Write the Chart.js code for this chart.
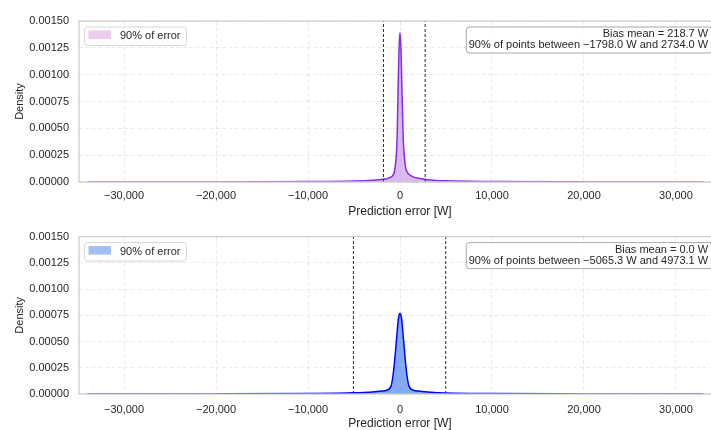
<!DOCTYPE html>
<html>
<head>
<meta charset="utf-8">
<script src="https://cdn.jsdelivr.net/npm/chart.js@4/dist/chart.umd.min.js"></script>
<style>
  html, body { margin: 0; padding: 0; background: #fff; }
  #wrap { position: relative; width: 711px; height: 430px; overflow: hidden; }
  canvas { position: absolute; left: 0; }
</style>
</head>
<body>
<div id="wrap">
  <canvas id="topChart" width="722" height="220" style="top:0"></canvas>
  <canvas id="botChart" width="722" height="210" style="top:220px"></canvas>
</div>
<script>
// prediction error grid [W]
const errGrid = [-34000, -20000, -10000, -5000, -3000, -2000, -1500, -1000, -800, -600, -400, -300, -200, -100,
  0, 100, 200, 300, 400, 600, 800, 1000, 1500, 2000, 3000, 5000, 10000, 20000, 33000];

// KDE densities
const densityTop = [0, 0.0000008, 0.000004, 0.000009, 0.000016, 0.000024, 0.00003, 0.000045, 0.00006, 0.0001,
  0.00025, 0.00045, 0.0009, 0.00125, 0.00139, 0.00125, 0.0009, 0.00055, 0.00032, 0.00014, 0.00009, 0.00007,
  0.000045, 0.000035, 0.000022, 0.000011, 0.000005, 0.000001, 0];
const densityBottom = [0, 0.000001, 0.000005, 0.000012, 0.00002, 0.000028, 0.000035, 0.00007, 0.00015, 0.0003,
  0.0005, 0.0006, 0.0007, 0.00075, 0.00077, 0.00075, 0.0007, 0.0006, 0.0005, 0.0003, 0.00015, 0.00007,
  0.000035, 0.000028, 0.00002, 0.00001, 0.000004, 0.000001, 0];

const biasTop = 218.7, cutsTop = [-1798.0, 2734.0];
const biasBottom = 0.0, cutsBottom = [-5065.3, 4973.1];

const xTicks = [-30000, -20000, -10000, 0, 10000, 20000, 30000];
const yTicks = [0, 0.00025, 0.0005, 0.00075, 0.001, 0.00125, 0.0015];
const legendLabel = '90% of error';

const FONT = "'Liberation Sans', Arial, sans-serif";
const TXT = '#262626';

const fmtX = v => (v < 0 ? '\u2212' : '') + Math.abs(v).toLocaleString('en-US');
const fmtW = v => (v < 0 ? '\u2212' : '') + Math.abs(v).toFixed(1);

const decorPlugin = {
  id: 'decor',
  afterDraw(chart) {
    const o = chart.options.plugins.decor;
    const { ctx, chartArea: a } = chart;
    ctx.save();
    // frame (all four spines)
    ctx.strokeStyle = '#cccccc';
    ctx.lineWidth = 1.25;
    ctx.strokeRect(a.left, a.top, a.right - a.left, a.bottom - a.top);

    ctx.font = '11px ' + FONT;
    ctx.textBaseline = 'middle';

    // legend
    const lx = a.left + 5, ly = a.top + 5.5;
    ctx.fillStyle = 'rgba(255,255,255,0.8)';
    ctx.strokeStyle = '#d6d6d6';
    ctx.lineWidth = 1;
    ctx.beginPath();
    ctx.roundRect(lx + 0.5, ly + 0.5, 102, 18.5, 3);
    ctx.fill(); ctx.stroke();
    ctx.fillStyle = o.patch;
    ctx.fillRect(lx + 4.5, ly + 4, 22.5, 8.5);
    ctx.fillStyle = TXT;
    ctx.textAlign = 'left';
    ctx.fillText(legendLabel, lx + 36, ly + 9.5);

    // stats box
    const lines = [
      'Bias mean = ' + fmtW(o.bias) + ' W',
      '90% of points between ' + fmtW(o.cuts[0]) + ' W and ' + fmtW(o.cuts[1]) + ' W'
    ];
    const tx = a.left + 0.98 * (a.right - a.left);
    const w = Math.max(...lines.map(s => ctx.measureText(s).width));
    const by = a.top + 5.5;
    ctx.fillStyle = 'rgba(255,255,255,0.8)';
    ctx.strokeStyle = '#a8a8a8';
    ctx.beginPath();
    ctx.roundRect(tx - w - 3 + 0.5, by + 0.5, w + 7, 26, 3);
    ctx.fill(); ctx.stroke();
    ctx.fillStyle = TXT;
    ctx.textAlign = 'right';
    ctx.fillText(lines[0], tx, by + 7.5);
    ctx.fillText(lines[1], tx, by + 18.8);
    ctx.restore();
  }
};

const makeChart = (id, dens, cuts, bias, lineColor, fillColor, patch, padTop, xHeight, tickPad, titlePad) => {
  const curve = errGrid.map((x, i) => ({ x: x, y: dens[i] }));
  const vline = c => ({
    data: [{ x: c, y: 0 }, { x: c, y: 0.0015 }],
    borderColor: '#2a2a2a',
    borderWidth: 1,
    borderDash: [3, 2],
    pointRadius: 0,
    fill: false,
    order: 1
  });
  return new Chart(document.getElementById(id), {
    type: 'line',
    data: {
      datasets: [
        {
          data: curve,
          borderColor: lineColor,
          backgroundColor: fillColor,
          borderWidth: 1.5,
          pointRadius: 0,
          fill: 'origin',
          cubicInterpolationMode: 'monotone',
          order: 2
        },
        vline(cuts[0]),
        vline(cuts[1])
      ]
    },
    plugins: [decorPlugin],
    options: {
      responsive: false,
      animation: false,
      layout: { padding: { top: padTop, right: 1, left: 0, bottom: 0 } },
      plugins: {
        legend: { display: false },
        tooltip: { enabled: false },
        decor: { bias: bias, cuts: cuts, patch: patch }
      },
      scales: {
        x: {
          type: 'linear',
          min: -34900,
          max: 34900,
          afterBuildTicks: s => { s.ticks = xTicks.map(v => ({ value: v })); },
          afterFit: s => { s.height = xHeight; },
          grid: { color: '#e4e4e4', lineWidth: 0.8, drawTicks: false },
          border: { display: false, dash: [4, 2.5] },
          ticks: { color: TXT, font: { family: FONT, size: 11 }, padding: tickPad, maxRotation: 0, callback: v => fmtX(v) },
          title: { display: true, text: 'Prediction error [W]', color: TXT, font: { family: FONT, size: 12 }, padding: { top: 0, bottom: titlePad } }
        },
        y: {
          min: 0,
          max: 0.0015,
          afterBuildTicks: s => { s.ticks = yTicks.map(v => ({ value: v })); },
          afterFit: s => { s.width = 79; },
          grid: { color: '#e4e4e4', lineWidth: 0.8, drawTicks: false },
          border: { display: false, dash: [4, 2.5] },
          ticks: { color: TXT, font: { family: FONT, size: 11 }, padding: 10, callback: v => v.toFixed(5) },
          title: { display: true, text: 'Density', color: TXT, font: { family: FONT, size: 11 }, padding: { top: 13, bottom: 0 } }
        }
      }
    }
  });
};

makeChart('topChart', densityTop, cutsTop, biasTop, '#8a2be2', 'rgba(190,130,225,0.55)', 'rgba(221,160,221,0.55)', 21, 38, 7, 1);
makeChart('botChart', densityBottom, cutsBottom, biasBottom, '#0000ff', 'rgba(100,149,237,0.8)', 'rgba(100,149,237,0.6)', 14, 36, 9, -1);
</script>
</body>
</html>
